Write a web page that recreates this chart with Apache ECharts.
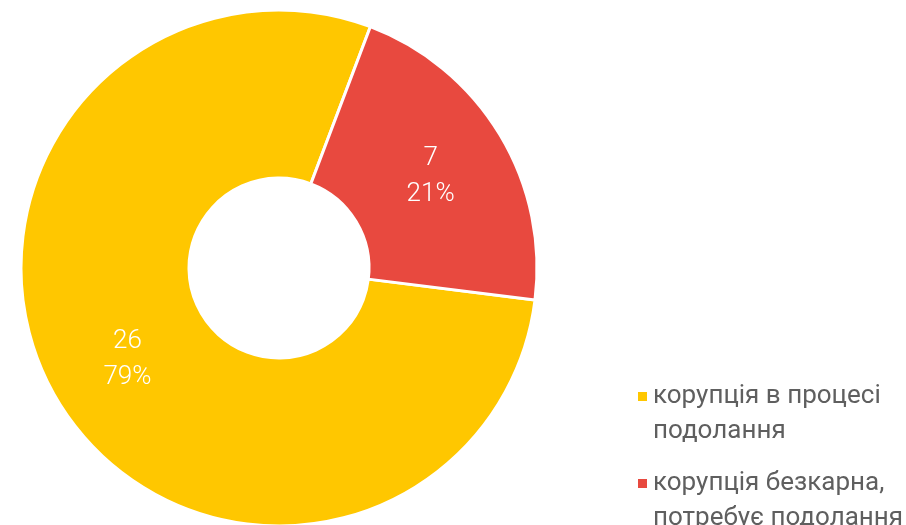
<!DOCTYPE html>
<html>
<head>
<meta charset="utf-8">
<script src="https://cdn.jsdelivr.net/npm/echarts@6/dist/echarts.min.js"></script>
<style>
  html, body { margin: 0; padding: 0; background: #fff; }
  #chart { width: 906px; height: 525px; }
</style>
</head>
<body>
<div id="chart"></div>
<script>
// дані
const categories = ['корупція в процесі\nподолання', 'корупція безкарна,\nпотребує подолання']
const values = [26, 7]
const colors = ['#FFC700', '#E8493F']

const chart = echarts.init(document.getElementById('chart'))

// легенда: порожній рядок зверху, щоб значок стояв навпроти першого рядка
const legendBase = {
  orient: 'vertical',
  left: 636,
  padding: 0,
  itemWidth: 11,
  itemHeight: 11,
  icon: 'rect',
  formatter: name => '\n' + name,
  textStyle: {
    fontFamily: 'Roboto',
    fontSize: 26,
    lineHeight: 35,
    color: '#5f5f5f'
  }
}

const option = {
  animation: false,
  color: colors,
  legend: [
    Object.assign({}, legendBase, { top: 344, data: [categories[0]] }),
    Object.assign({}, legendBase, { top: 431, data: [categories[1]] })
  ],
  series: [{
    type: 'pie',
    center: [279, 268],
    radius: [90, 258],
    startAngle: -7.1,
    clockwise: true,
    percentPrecision: 0,
    itemStyle: {
      borderColor: '#fff',
      borderWidth: 3
    },
    label: {
      position: 'inside',
      formatter: '{c}\n{d}%',
      color: '#fff',
      fontFamily: 'Roboto',
      fontWeight: 300,
      fontSize: 26,
      lineHeight: 36
    },
    labelLine: { show: false },
    emphasis: { disabled: true },
    data: categories.map((name, i) => ({ name: name, value: values[i] }))
  }]
}

chart.setOption(option)
</script>
</body>
</html>
